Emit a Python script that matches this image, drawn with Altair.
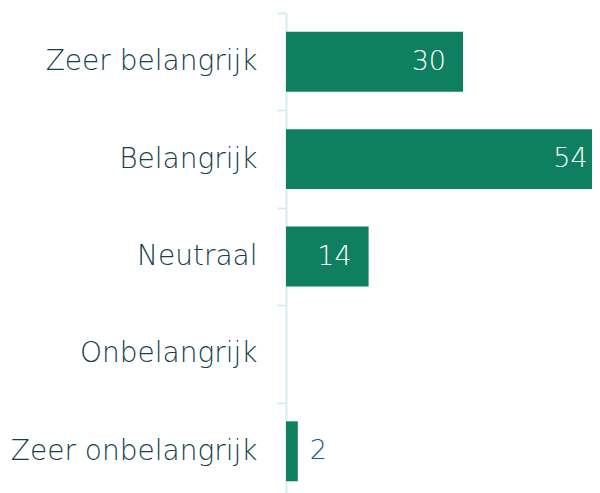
import altair as alt
import pandas as pd

categories = ["Zeer belangrijk", "Belangrijk", "Neutraal", "Onbelangrijk", "Zeer onbelangrijk"]
values = [30, 54, 14, 0, 2]

df = pd.DataFrame({"cat": categories, "value": values})
FONT = "DejaVu Sans"

y = alt.Y("cat:N", sort=categories, title=None,
          scale=alt.Scale(paddingInner=0.385, paddingOuter=0.1925),
          axis=alt.Axis(domainColor="#d4eef2", domainWidth=2, tickColor="#d4eef2",
                        tickWidth=2, tickSize=9, tickOffset=-48.75, labelOffset=48.75,
                        labelPadding=20, labelFont=FONT, labelFontSize=28,
                        labelFontWeight=200, labelColor="#163f49", labelLimit=400))
x = alt.X("value:Q", title=None, axis=None,
          scale=alt.Scale(domain=[0, 51.86], nice=False, zero=True))

bars = alt.Chart(df).mark_bar(color="#0e7f5f", clip=True).encode(y=y, x=x)

inside = alt.Chart(df).transform_filter("datum.value > 5").mark_text(
    align="right", baseline="middle", dx=-17, font=FONT, fontSize=27,
    fontWeight=200, color="white").encode(y=y, x=x, text="value:Q")

outside = alt.Chart(df).transform_filter("datum.value > 0 && datum.value <= 5").mark_text(
    align="left", baseline="middle", dx=12, font=FONT, fontSize=27,
    fontWeight=200, color="#1a5888").encode(y=y, x=x, text="value:Q")

chart = alt.layer(bars, inside, outside).properties(
    width=306, height=487,
    autosize=alt.AutoSizeParams(type="none"),
    padding={"left": 278, "top": 5, "right": 0, "bottom": 0},
).configure_view(stroke=None)

chart.save("out.html", embed_options={"renderer": "svg", "actions": False})
